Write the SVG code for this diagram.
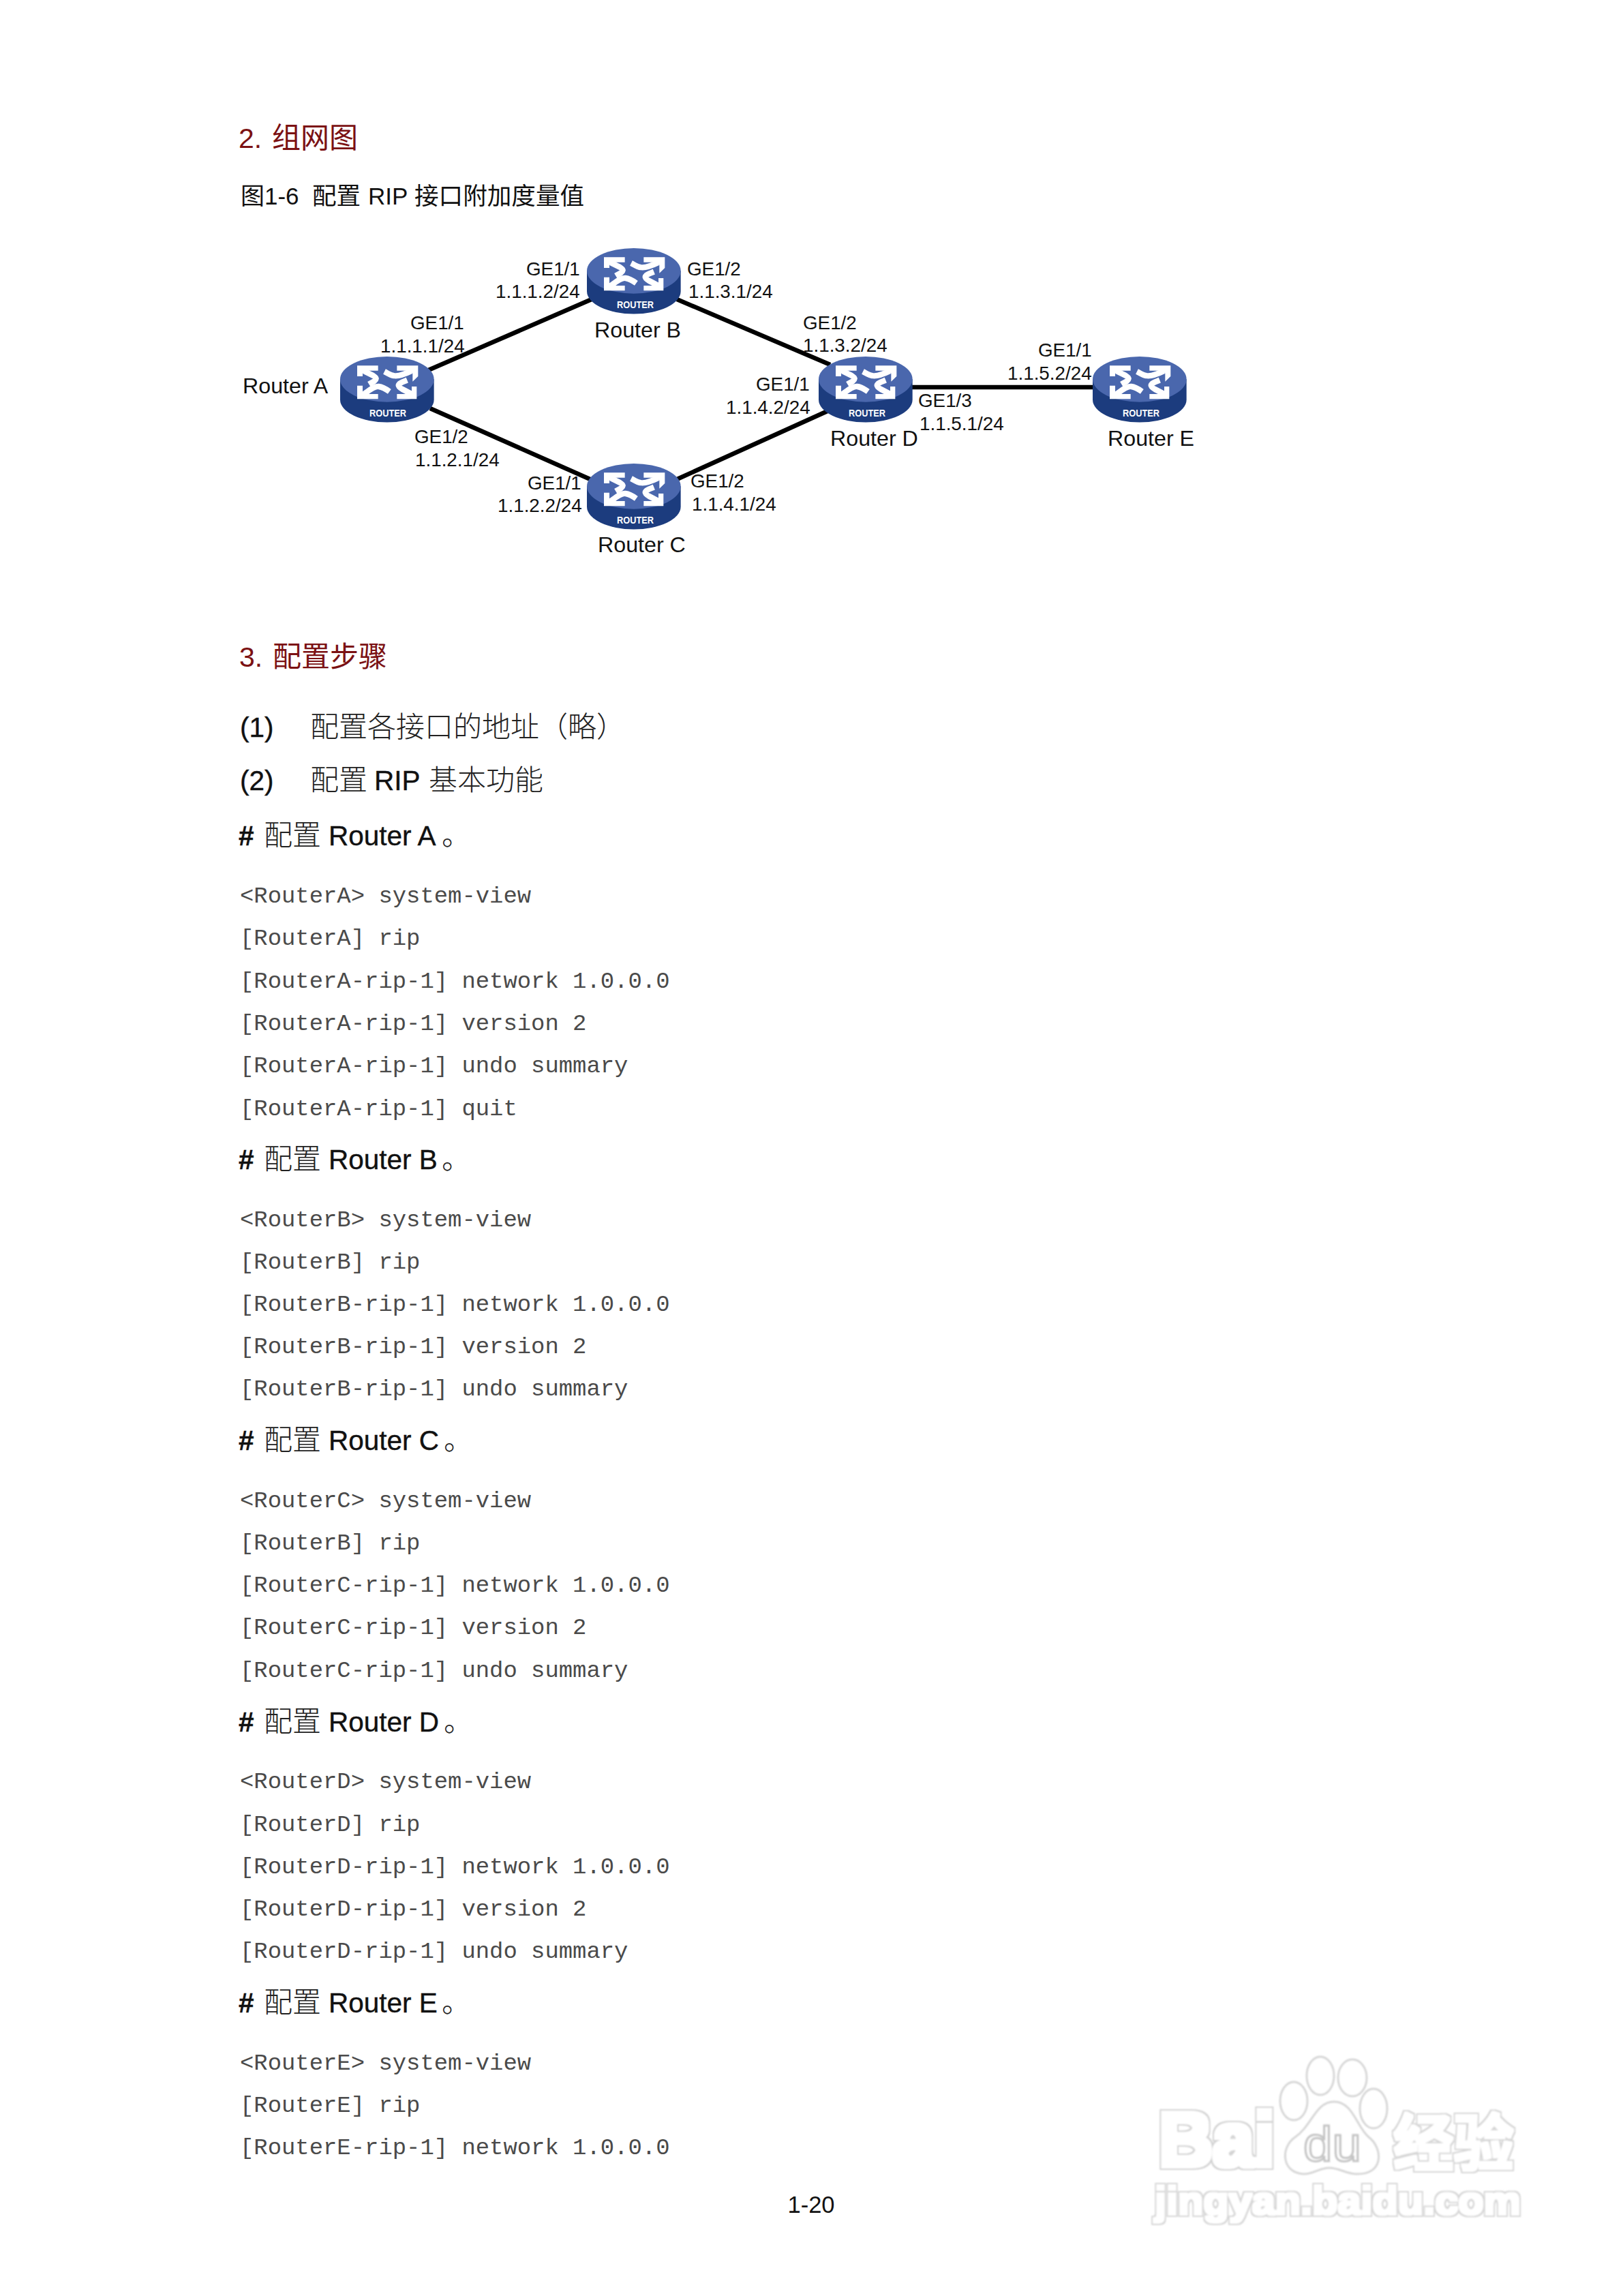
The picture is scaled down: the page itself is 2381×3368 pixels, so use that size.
<svg xmlns="http://www.w3.org/2000/svg" width="2381" height="3368" viewBox="0 0 2381 3368">
<style>
text{font-family:"Liberation Sans","Noto Sans CJK SC",sans-serif;fill:#111}
.h{font-size:41px;fill:#7b1113}
.hc{font-size:42px;fill:#7b1113}
.cap{font-size:35px}
.capc{font-size:35.600px}
.l{font-size:27.800px}
.r{font-size:32.200px}
.rt{font-size:14px;font-weight:700;fill:#fff;text-anchor:middle}
.b{font-size:40.500px;stroke:#111;stroke-width:.4}
.cj{font-weight:300;fill:#222;font-size:42px;stroke:none}
.c{font-family:"Liberation Mono",monospace;font-size:33.900px;fill:#4a4a4a}
.link{stroke:#000;stroke-width:6.500;fill:none}
.wm{fill:#fff;stroke:#d6d6d6;stroke-width:3;filter:url(#soft)}
.wmt{fill:#000;filter:url(#halo)}
.wms{fill:#000;filter:url(#halo2)}
</style>
<defs>
<filter id="soft" x="-10%" y="-10%" width="120%" height="120%"><feGaussianBlur stdDeviation="0.9"/></filter>
<filter id="halo" x="-10%" y="-15%" width="120%" height="130%">
<feMorphology in="SourceAlpha" operator="dilate" radius="6" result="o"/>
<feFlood flood-color="#d2d2d2"/><feComposite in2="o" operator="in" result="g"/>
<feMorphology in="SourceAlpha" operator="dilate" radius="4" result="i"/>
<feFlood flood-color="#fff"/><feComposite in2="i" operator="in" result="w"/>
<feMerge result="m"><feMergeNode in="g"/><feMergeNode in="w"/></feMerge>
<feGaussianBlur in="m" stdDeviation="0.9"/>
</filter>
<filter id="halo2" x="-10%" y="-15%" width="120%" height="130%">
<feMorphology in="SourceAlpha" operator="dilate" radius="3.500" result="o"/>
<feFlood flood-color="#d6d6d6"/><feComposite in2="o" operator="in" result="g"/>
<feMorphology in="SourceAlpha" operator="dilate" radius="2" result="i"/>
<feFlood flood-color="#fff"/><feComposite in2="i" operator="in" result="w"/>
<feMerge result="m"><feMergeNode in="g"/><feMergeNode in="w"/></feMerge>
<feGaussianBlur in="m" stdDeviation="0.8"/>
</filter>
<g id="router">
<g transform="scale(0.3333) translate(-55 -38)">
<path d="M55 138 V228 A206 99 0 0 0 468 228 V138 Z" fill="#1c3c7e"/>
<ellipse cx="261.500" cy="138" rx="206.500" ry="100" fill="#4a67ad"/>
<g fill="#fff">
<polygon points="130,78 222,78 222,100 172,100 154,112 154,125 130,125"/>
<polygon points="398,78 305,78 305,100 362,100 374,112 374,148 398,125"/>
<polygon points="130,225 222,225 222,203 172,203 154,190 154,166 130,166"/>
<polygon points="392,225 305,225 305,203 358,203 370,190 370,170 392,170"/>
</g>
<g fill="none" stroke="#fff" stroke-width="25">
<path d="M160 102 C185 115 212 125 213 135 C212 145 195 152 182 160"/>
<path d="M368 102 C335 118 310 126 290 122 C275 120 262 110 250 104"/>
<path d="M162 202 C185 185 205 168 225 170 C242 172 258 182 272 192"/>
<path d="M368 202 C340 188 312 175 312 165 C312 155 335 148 350 142"/>
</g>
</g>
</g>
</defs>
<rect width="2381" height="3368" fill="#fff"/>

<g id="page-headings">
<text class="h" x="350" y="217">2.<tspan class="hc" x="399">组网图</tspan></text>
<text class="cap" x="353" y="300">图1-6<tspan x="458" class="capc">配置</tspan><tspan x="540">RIP</tspan><tspan x="608" class="capc">接口附加度量值</tspan></text>
<text class="h" x="351" y="978">3.<tspan class="hc" x="400">配置步骤</tspan></text>
</g>

<g id="connectors">
<line class="link" x1="626" y1="544" x2="868" y2="439"/>
<line class="link" x1="631" y1="599" x2="868" y2="704"/>
<line class="link" x1="993" y1="439" x2="1218" y2="535"/>
<line class="link" x1="991" y1="704" x2="1214" y2="603"/>
<line class="link" x1="1338" y1="568" x2="1604" y2="568"/>
</g>

<g id="router-a">
<use href="#router" x="499" y="523"/>
<text class="rt" x="569" y="611" textLength="54" lengthAdjust="spacingAndGlyphs">ROUTER</text>
<text class="r" x="356" y="577">Router A</text>
<text class="l" x="602" y="483">GE1/1</text>
<text class="l" x="558" y="517">1.1.1.1/24</text>
<text class="l" x="608" y="650">GE1/2</text>
<text class="l" x="609" y="684">1.1.2.1/24</text>
</g>
<g id="router-b">
<use href="#router" x="861" y="364"/>
<text class="rt" x="932" y="452" textLength="54" lengthAdjust="spacingAndGlyphs">ROUTER</text>
<text class="r" x="872" y="495">Router B</text>
<text class="l" x="772" y="404">GE1/1</text>
<text class="l" x="727" y="437">1.1.1.2/24</text>
<text class="l" x="1008" y="404">GE1/2</text>
<text class="l" x="1010" y="437">1.1.3.1/24</text>
</g>
<g id="router-c">
<use href="#router" x="861" y="680"/>
<text class="rt" x="932" y="768" textLength="54" lengthAdjust="spacingAndGlyphs">ROUTER</text>
<text class="r" x="877" y="810">Router C</text>
<text class="l" x="774" y="718">GE1/1</text>
<text class="l" x="730" y="751">1.1.2.2/24</text>
<text class="l" x="1013" y="715">GE1/2</text>
<text class="l" x="1015" y="749">1.1.4.1/24</text>
</g>
<g id="router-d">
<use href="#router" x="1201" y="523"/>
<text class="rt" x="1272" y="611" textLength="54" lengthAdjust="spacingAndGlyphs">ROUTER</text>
<text class="r" x="1218" y="654">Router D</text>
<text class="l" x="1109" y="573">GE1/1</text>
<text class="l" x="1065" y="607">1.1.4.2/24</text>
<text class="l" x="1178" y="483">GE1/2</text>
<text class="l" x="1178" y="516">1.1.3.2/24</text>
<text class="l" x="1347" y="597">GE1/3</text>
<text class="l" x="1349" y="631">1.1.5.1/24</text>
</g>
<g id="router-e">
<use href="#router" x="1603" y="523"/>
<text class="rt" x="1674" y="611" textLength="54" lengthAdjust="spacingAndGlyphs">ROUTER</text>
<text class="r" x="1625" y="654">Router E</text>
<text class="l" x="1523" y="523">GE1/1</text>
<text class="l" x="1478" y="557">1.1.5.2/24</text>
</g>

<g id="steps">
<text class="b" x="352" y="1081">(1)<tspan class="cj" x="455">配置各接口的地址（略）</tspan></text>
<text class="b" x="352" y="1159">(2)<tspan class="cj" x="455">配置</tspan><tspan x="549">RIP</tspan><tspan class="cj" x="629">基本功能</tspan></text>

<text class="b" x="350" y="1240"><tspan font-weight="700">#</tspan><tspan class="cj" x="387">配置</tspan><tspan x="482">Router A</tspan><tspan class="cj" x="648">。</tspan></text>
<text class="c" x="352" y="1324">&lt;RouterA&gt; system-view</text>
<text class="c" x="352" y="1386">[RouterA] rip</text>
<text class="c" x="352" y="1449">[RouterA-rip-1] network 1.0.0.0</text>
<text class="c" x="352" y="1511">[RouterA-rip-1] version 2</text>
<text class="c" x="352" y="1573">[RouterA-rip-1] undo summary</text>
<text class="c" x="352" y="1636">[RouterA-rip-1] quit</text>

<text class="b" x="350" y="1715"><tspan font-weight="700">#</tspan><tspan class="cj" x="387">配置</tspan><tspan x="482">Router B</tspan><tspan class="cj" x="648">。</tspan></text>
<text class="c" x="352" y="1799">&lt;RouterB&gt; system-view</text>
<text class="c" x="352" y="1861">[RouterB] rip</text>
<text class="c" x="352" y="1923">[RouterB-rip-1] network 1.0.0.0</text>
<text class="c" x="352" y="1985">[RouterB-rip-1] version 2</text>
<text class="c" x="352" y="2047">[RouterB-rip-1] undo summary</text>

<text class="b" x="350" y="2127"><tspan font-weight="700">#</tspan><tspan class="cj" x="387">配置</tspan><tspan x="482">Router C</tspan><tspan class="cj" x="651">。</tspan></text>
<text class="c" x="352" y="2211">&lt;RouterC&gt; system-view</text>
<text class="c" x="352" y="2273">[RouterB] rip</text>
<text class="c" x="352" y="2335">[RouterC-rip-1] network 1.0.0.0</text>
<text class="c" x="352" y="2397">[RouterC-rip-1] version 2</text>
<text class="c" x="352" y="2460">[RouterC-rip-1] undo summary</text>

<text class="b" x="350" y="2540"><tspan font-weight="700">#</tspan><tspan class="cj" x="387">配置</tspan><tspan x="482">Router D</tspan><tspan class="cj" x="651">。</tspan></text>
<text class="c" x="352" y="2623">&lt;RouterD&gt; system-view</text>
<text class="c" x="352" y="2686">[RouterD] rip</text>
<text class="c" x="352" y="2748">[RouterD-rip-1] network 1.0.0.0</text>
<text class="c" x="352" y="2810">[RouterD-rip-1] version 2</text>
<text class="c" x="352" y="2872">[RouterD-rip-1] undo summary</text>

<text class="b" x="350" y="2952"><tspan font-weight="700">#</tspan><tspan class="cj" x="387">配置</tspan><tspan x="482">Router E</tspan><tspan class="cj" x="648">。</tspan></text>
<text class="c" x="352" y="3036">&lt;RouterE&gt; system-view</text>
<text class="c" x="352" y="3098">[RouterE] rip</text>
<text class="c" x="352" y="3160">[RouterE-rip-1] network 1.0.0.0</text>

<text x="1190" y="3246" font-size="34.500" text-anchor="middle">1-20</text>
</g>

<g id="watermark">
<ellipse class="wm" cx="1937" cy="3045" rx="20" ry="28"/>
<ellipse class="wm" cx="1984" cy="3048" rx="21" ry="27"/>
<ellipse class="wm" cx="1898" cy="3082" rx="20" ry="28"/>
<ellipse class="wm" cx="2015" cy="3093" rx="20" ry="29"/>
<path class="wm" d="M1957 3083 C1985 3083 1990 3120 2008 3135 C2028 3150 2032 3190 1990 3189 C1975 3189 1965 3180 1950 3180 C1935 3180 1925 3190 1912 3189 C1880 3187 1878 3150 1900 3135 C1925 3118 1930 3083 1957 3083 Z"/>
<text class="wmt" font-weight="700" x="1700" y="3177" font-size="112" textLength="170" lengthAdjust="spacingAndGlyphs">Bai</text>
<text x="1912" y="3170" font-size="73" style="fill:#fff;stroke:#c4c4c4;stroke-width:3;filter:url(#soft)" textLength="85" lengthAdjust="spacingAndGlyphs">du</text>
<text class="wms" font-weight="700" x="2044" y="3176" font-size="90" textLength="177" lengthAdjust="spacingAndGlyphs">经验</text>
<text class="wms" font-weight="700" x="1694" y="3248" font-size="58" textLength="537" lengthAdjust="spacingAndGlyphs">jingyan.baidu.com</text>
</g>
</svg>
